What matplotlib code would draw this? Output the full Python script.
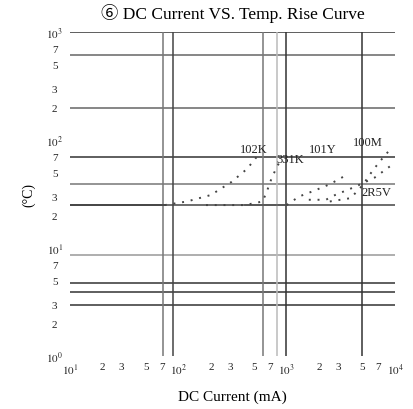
import matplotlib
matplotlib.use("Agg")
import matplotlib.pyplot as plt
from matplotlib.ticker import FixedLocator, FixedFormatter, NullLocator

plt.rcParams['font.family'] = ['Liberation Serif', 'Noto Sans CJK SC', 'DejaVu Sans']
plt.rcParams['mathtext.fontset'] = 'stix'

# grid lines as printed on the sheet
h_lines = [1000, 610, 200, 70, 39, 25, 8.6, 4.8, 3.9, 3.0]
h_shade = ['#333333', '#666666', '#666666', '#333333', '#777777', '#444444',
           '#999999', '#333333', '#333333', '#333333']
v_lines = [72, 89, 600, 810, 990, 5000]
v_shade = ['#777777', '#444444', '#777777', '#bbbbbb', '#333333', '#333333']

# tick labels
x_ticks = [10, 20, 30, 50, 70, 100, 200, 300, 500, 700, 1000, 2000, 3000, 5000, 7000, 10000]
x_labels = [r'$10^1$', '2', '3', '5', '7', r'$10^2$', '2', '3', '5', '7',
            r'$10^3$', '2', '3', '5', '7', r'$10^4$']
y_ticks = [1, 2, 3, 5, 7, 10, 20, 30, 50, 70, 100, 200, 300, 500, 700, 1000]
y_labels = [r'$10^0$', '2', '3', '5', '7', r'$10^1$', '2', '3', '5', '7',
            r'$10^2$', '2', '3', '5', '7', r'$10^3$']

# solid low-current plateau
base_x = [10, 75]
base_y = [25, 25]
base2_x = [410, 990]
base2_y = [25, 25]

# temperature rise curves (mA, deg C)
c102k_x = [75, 120, 200, 310, 430, 530]
c102k_y = [25, 27, 31, 41, 54, 70]
c331k_x = [180, 410, 600, 660, 730, 810, 870]
c331k_y = [25, 25, 27, 34, 45, 56, 64]
c101y_x = [1000, 1300, 1800, 2500, 3500]
c101y_y = [25, 30, 34, 39, 47]
c100m_x = [2500, 3900, 5000, 6200, 7300, 9400]
c100m_y = [27, 29, 38, 52, 64, 86]
c2r5v_x = [1600, 2300, 2800, 4300, 6500, 9600]
c2r5v_y = [28, 28, 31, 37, 45, 60]

fig = plt.figure(figsize=(4.13, 4.10), dpi=100)
ax = fig.add_axes([0.1695, 0.129, 0.787, 0.7905])
ax.set_xscale('log')
ax.set_yscale('log')
ax.set_xlim(10, 10000)
ax.set_ylim(1, 1000)

for v, c in zip(h_lines, h_shade):
    ax.axhline(v, color=c, lw=1.1, zorder=1)
for v, c in zip(v_lines, v_shade):
    ax.axvline(v, color=c, lw=1.1, zorder=1)

ax.plot(base_x, base_y, color='#444444', lw=1.3, zorder=2)
ax.plot(base2_x, base2_y, color='#555555', lw=1.2, zorder=2)
dot = dict(color='#444444', lw=1.4, ls=(0, (1, 3.5)), zorder=3)
for xs, ys in [(c102k_x, c102k_y), (c331k_x, c331k_y), (c101y_x, c101y_y),
               (c100m_x, c100m_y), (c2r5v_x, c2r5v_y)]:
    ax.plot(xs, ys, **dot)

lab = dict(fontsize=9, ha='center', va='center', color='#222222', zorder=4)
ax.text(500, 83, '102K', **lab)
ax.text(1075, 67, '331K', **lab)
ax.text(2170, 83, '101Y', **lab)
ax.text(5650, 96, '100M', **lab)
ax.text(6700, 33, '2R5V', **lab)

for s in ax.spines.values():
    s.set_visible(False)

ax.xaxis.set_major_locator(FixedLocator(x_ticks))
ax.xaxis.set_major_formatter(FixedFormatter(x_labels))
ax.xaxis.set_minor_locator(NullLocator())
ax.yaxis.set_major_locator(FixedLocator(y_ticks))
ax.yaxis.set_major_formatter(FixedFormatter(y_labels))
ax.yaxis.set_minor_locator(NullLocator())
ax.tick_params(axis='x', length=0, pad=4, labelsize=8, colors='#222222')
ax.tick_params(axis='y', length=0, pad=11, labelsize=8, colors='#222222')
for t in ax.get_yticklabels():
    t.set_horizontalalignment('center')

ax.set_xlabel('DC Current (mA)', fontsize=11, labelpad=9)
ax.set_ylabel('(°C)', fontsize=10, labelpad=8)
ax.set_title('⑥ DC Current VS. Temp. Rise Curve', fontsize=12.5, pad=10)

fig.savefig('out.png', dpi=100)
